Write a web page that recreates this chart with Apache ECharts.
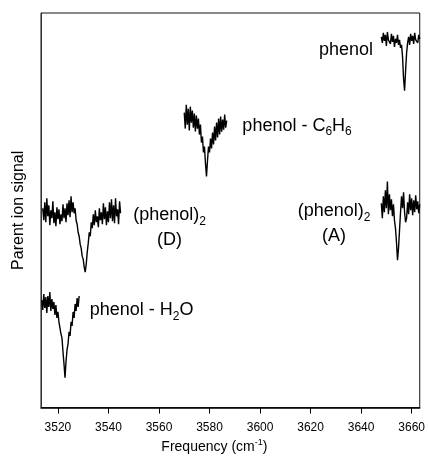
<!DOCTYPE html>
<html>
<head>
<meta charset="utf-8">
<script src="https://cdn.jsdelivr.net/npm/echarts@6/dist/echarts.min.js"></script>
<style>
  html, body { margin: 0; padding: 0; background: #fff; }
  #chart { width: 428px; height: 459px; }
</style>
</head>
<body>
<div id="chart"></div>
<script>
  // frequency ticks (cm-1)
  const freqTicks = [3520, 3540, 3560, 3580, 3600, 3620, 3640, 3660];
  const step = 0.4;

  // each trace: start frequency + signal (arbitrary units)
  const phenolStart = 3648.0;
  const phenolSignal = [372, 366, 376, 368, 374, 363, 377, 369, 371, 365, 375, 367, 373, 362, 370, 366, 374, 364,
    369, 361, 364, 352, 330, 318, 338, 356, 366, 372, 364, 375, 368, 373, 365, 376, 369, 371, 366, 374, 370];

  const benzeneStart = 3570.0;
  const benzeneSignal = [296, 280, 304, 284, 300, 278, 302, 286, 298, 281, 295, 277, 293, 280, 290, 274, 284, 266,
    272, 256, 262, 245, 232, 248, 262, 256, 270, 260, 276, 264, 282, 268, 286, 271, 290, 274, 292, 277, 289, 279,
    294, 281, 288];

  const dimerDStart = 3514.0;
  const dimerDSignal = [200, 188, 206, 186, 210, 192, 203, 183, 198, 190, 207, 185, 196, 182, 201, 189, 199, 184,
    194, 187, 204, 190, 200, 186, 205, 193, 208, 191, 212, 196, 206, 195, 200, 188, 184, 176, 172, 164, 160, 152,
    149, 141, 136, 144, 156, 165, 176, 172, 186, 180, 194, 183, 198, 186, 192, 181, 200, 188, 196, 184, 205, 189,
    201, 183, 197, 186, 206, 190, 209, 187, 203, 185, 210, 192, 199, 184, 207, 195];

  const dimerAStart = 3648.0;
  const dimerASignal = [205, 190, 212, 196, 218, 200, 227, 194, 214, 198, 209, 192, 204, 188, 180, 166, 148, 160,
    178, 196, 212, 200, 216, 196, 186, 190, 206, 194, 214, 198, 210, 193, 208, 196, 213, 199, 207, 195, 204];

  const waterStart = 3513.6;
  const waterSignal = [108, 98, 114, 100, 111, 95, 112, 101, 116, 97, 109, 99, 106, 93, 103, 90, 96, 86, 84, 74,
    70, 56, 44, 30, 46, 58, 64, 76, 72, 86, 82, 96, 90, 104, 97, 110, 101, 112];

  // trace labels, anchored in data space
  const labelText = ['phenol', 'phenol - C{sub|6}H{sub|6}', '(phenol){sub|2}\n(D)', '(phenol){sub|2}\n(A)', 'phenol - H{sub|2}O'];
  const labelFreq = [3634.0, 3593.0, 3564.2, 3629.3, 3532.6];
  const labelSignal = [359, 283, 181, 185, 98];
  const labelAlign = ['center', 'left', 'center', 'center', 'left'];

  const font = '"Liberation Sans", Arial, Helvetica, sans-serif';

  function trace(start, signal) {
    return {
      type: 'line',
      data: signal.map((v, i) => [start + i * step, v]),
      symbol: 'none',
      silent: true,
      lineStyle: { color: '#000', width: 1.4 }
    };
  }

  let chart = echarts.init(document.getElementById('chart'));
  let option = {
    animation: false,
    backgroundColor: '#fff',
    grid: {
      left: 41, right: 7, top: 13, bottom: 50,
      show: true, borderColor: '#111', borderWidth: 1
    },
    xAxis: {
      type: 'value',
      min: 3513.3,
      max: 3663.2,
      name: 'Frequency (cm{sup|-1})',
      nameLocation: 'middle',
      nameGap: 25,
      nameTextStyle: {
        fontFamily: font, fontSize: 14, color: '#000',
        padding: [0, 32, 0, 0],
        rich: { sup: { fontFamily: font, fontSize: 9, color: '#000', verticalAlign: 'top', padding: [0, 0, 8, 0] } }
      },
      axisLine: { lineStyle: { color: '#000', width: 1.5 } },
      axisTick: { show: true, inside: false, length: 6, customValues: freqTicks, lineStyle: { color: '#000' } },
      axisLabel: {
        customValues: freqTicks, margin: 14, fontFamily: font, fontSize: 12, color: '#000',
        formatter: v => String(v)
      },
      splitLine: { show: false }
    },
    yAxis: {
      type: 'value',
      min: 0,
      max: 396,
      name: 'Parent ion signal',
      nameLocation: 'middle',
      nameGap: 14,
      nameTextStyle: { fontFamily: font, fontSize: 16, color: '#000' },
      axisLine: { show: true, lineStyle: { color: '#333', width: 1 } },
      axisTick: { show: false },
      axisLabel: { show: false },
      splitLine: { show: false }
    },
    series: [
      trace(phenolStart, phenolSignal),
      trace(benzeneStart, benzeneSignal),
      trace(dimerDStart, dimerDSignal),
      trace(dimerAStart, dimerASignal),
      trace(waterStart, waterSignal),
      {
        type: 'scatter',
        symbolSize: 0,
        silent: true,
        itemStyle: { opacity: 1 },
        data: labelText.map((t, i) => ({
          value: [labelFreq[i], labelSignal[i]],
          label: { align: labelAlign[i] }
        })),
        label: {
          show: true,
          position: 'inside',
          formatter: p => labelText[p.dataIndex],
          fontFamily: font,
          fontSize: 18,
          lineHeight: 25,
          color: '#000',
          opacity: 1,
          rich: {
            sub: { fontFamily: font, fontSize: 12, color: '#000', verticalAlign: 'bottom', padding: [10, 0, 0, 0] }
          }
        }
      }
    ]
  };
  chart.setOption(option);
</script>
</body>
</html>
